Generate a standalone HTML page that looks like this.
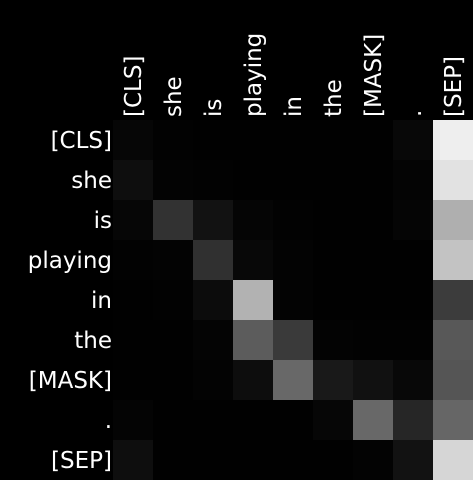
<!DOCTYPE html>
<html><head><meta charset="utf-8"><style>
html,body{margin:0;padding:0;background:#000;width:473px;height:480px;overflow:hidden}
svg text{font-family:"DejaVu Sans",sans-serif;font-size:23px;fill:#fff}
</style></head><body>
<svg id="chart" width="473" height="480" xmlns="http://www.w3.org/2000/svg">
<rect width="473" height="480" fill="#000"/>
</svg>
<script>
const tokens = ["[CLS]","she","is","playing","in","the","[MASK]",".","[SEP]"];
const weights = [
[6,2,1,1,1,1,1,8,238],
[14,3,2,1,1,1,1,4,226],
[6,50,18,5,2,1,1,5,175],
[2,3,48,8,3,1,1,1,195],
[1,2,12,178,3,1,1,1,60],
[1,1,4,92,58,3,2,2,88],
[1,1,3,13,104,25,17,8,85],
[4,1,1,1,1,6,104,38,102],
[14,1,1,1,1,1,3,18,214]
];
const NS="http://www.w3.org/2000/svg";
const svg=document.getElementById('chart');
const x0=113,y0=120,cell=40;
function xs(i){return x0+i*cell;}
function ys(j){return y0+j*cell;}
function shade(v){const g=Math.round(Math.max(0,Math.min(255,v)));return `rgb(${g},${g},${g})`;}
weights.forEach((row,r)=>row.forEach((v,c)=>{
  const rc=document.createElementNS(NS,'rect');
  rc.setAttribute('x',xs(c));rc.setAttribute('y',ys(r));
  rc.setAttribute('width',cell);rc.setAttribute('height',cell);
  rc.setAttribute('fill',shade(v));
  
  
  svg.appendChild(rc);
}));
tokens.forEach((t,i)=>{
  const tx=document.createElementNS(NS,'text');
  tx.setAttribute('x',112);tx.setAttribute('y',ys(i)+cell/2+8);
  tx.setAttribute('text-anchor','end');
  tx.textContent=t;
  
  
  svg.appendChild(tx);
  const cx=document.createElementNS(NS,'text');
  const px=xs(i)+cell/2+8,py=117;
  cx.setAttribute('x',px);cx.setAttribute('y',py);
  cx.setAttribute('transform',`rotate(-90 ${px} ${py})`);
  cx.textContent=t;
  
  
  svg.appendChild(cx);
});
</script>
</body></html>
